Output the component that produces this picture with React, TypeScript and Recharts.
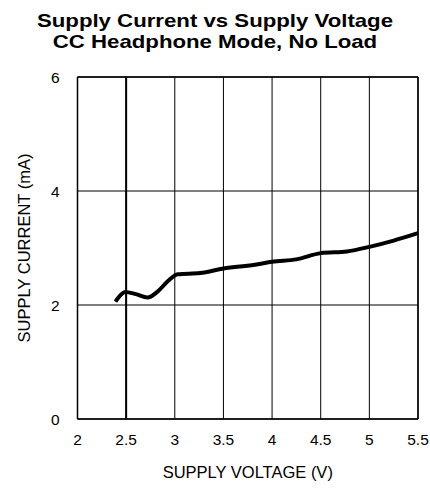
import React from "react";
import {
  LineChart,
  Line,
  XAxis,
  YAxis,
  CartesianGrid,
  ReferenceLine,
  Label,
} from "recharts";

const voltage = [2.39, 2.44, 2.49, 2.6, 2.72, 2.82, 2.93, 3.03, 3.26, 3.5, 3.84, 4.0, 4.25, 4.5, 4.77, 5.0, 5.25, 5.5];
const current = [2.06, 2.17, 2.23, 2.19, 2.13, 2.23, 2.42, 2.54, 2.56, 2.64, 2.71, 2.76, 2.8, 2.91, 2.94, 3.02, 3.13, 3.26];

const xTicks = [2, 2.5, 3, 3.5, 4, 4.5, 5, 5.5];
const yTicks = [0, 2, 4, 6];

const titleLines = ["Supply Current vs Supply Voltage", "CC Headphone Mode, No Load"];

const data = voltage.map((v, i) => ({ v, i: current[i] }));

const font = "'Liberation Sans', Arial, Helvetica, sans-serif";

export default function App() {
  return (
    <div style={{ position: "absolute", left: 0, top: 0, width: 430, height: 489, background: "#fff", fontFamily: font }}>
      <div
        style={{
          position: "absolute",
          top: 10,
          left: 0,
          width: 430,
          textAlign: "center",
          fontWeight: "bold",
          fontSize: 18.5,
          lineHeight: "21px",
          color: "#000",
          transform: "scaleX(1.2)",
          transformOrigin: "215px 0",
        }}
      >
        {titleLines.map((t) => (
          <div key={t}>{t}</div>
        ))}
      </div>
      <div style={{ position: "absolute", left: 0, top: 0 }}>
        <LineChart
          width={430}
          height={489}
          data={data}
          margin={{ top: 77, right: 12, bottom: 30, left: 20 }}
        >
          <CartesianGrid stroke="#000" strokeWidth={1} horizontalValues={yTicks} verticalValues={xTicks} />
          <XAxis
            type="number"
            dataKey="v"
            domain={[2, 5.5]}
            ticks={xTicks}
            tickLine={false}
            axisLine={{ stroke: "#000", strokeWidth: 1.5 }}
            tick={{ fill: "#000", fontSize: 15.5, fontFamily: font }}
            tickMargin={9}
            height={40}
          >
            <Label value="SUPPLY VOLTAGE (V)" position="bottom" offset={7} fill="#000" fontSize={16.5} fontFamily={font} />
          </XAxis>
          <YAxis
            type="number"
            domain={[0, 6]}
            ticks={yTicks}
            tickLine={false}
            axisLine={{ stroke: "#000", strokeWidth: 1.5 }}
            tick={{ fill: "#000", fontSize: 15.5, fontFamily: font }}
            tickMargin={12}
            width={57.5}
          >
            <Label value="SUPPLY CURRENT (mA)" angle={-90} position="insideLeft" offset={4} style={{ textAnchor: "middle" }} fill="#000" fontSize={16.5} fontFamily={font} />
          </YAxis>
          <ReferenceLine x={2.5} stroke="#000" strokeWidth={2} />
          <ReferenceLine y={6} stroke="#000" strokeWidth={1.5} />
          <ReferenceLine x={5.5} stroke="#000" strokeWidth={1.5} />
          <Line
            type="monotone"
            dataKey="i"
            stroke="#000"
            strokeWidth={4}
            dot={false}
            isAnimationActive={false}
          />
        </LineChart>
      </div>
    </div>
  );
}
